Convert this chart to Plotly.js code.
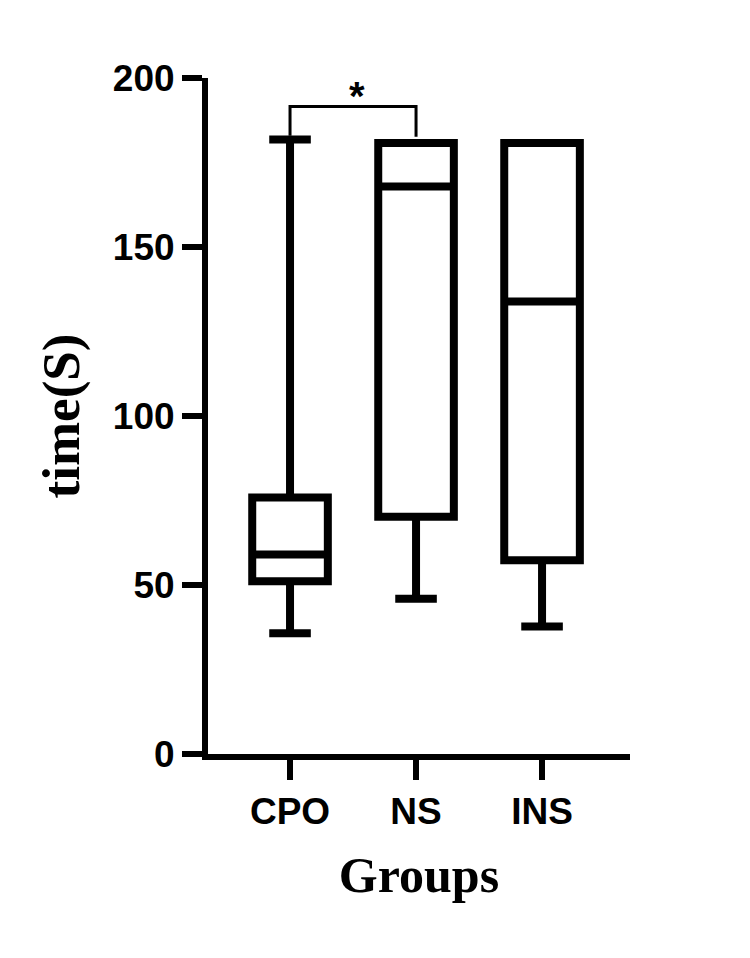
<!DOCTYPE html>
<html>
<head>
<meta charset="utf-8">
<script src="https://cdn.plot.ly/plotly-3.0.1.min.js"></script>
<style>
  html, body { margin: 0; padding: 0; background: #ffffff; }
  #chart { width: 750px; height: 958px; }
</style>
</head>
<body>
<div id="chart"></div>
<script>
// ---- data ----
const groups = ['CPO', 'NS', 'INS'];
const lowerWhisker = [35.7, 45.9, 37.7];
const q1Values = [51.1, 70.2, 57.3];
const medianValues = [59.0, 167.9, 133.9];
const q3Values = [75.9, 180.8, 180.8];
const upperWhisker = [181.8, 180.8, 180.8];
const yTickValues = [0, 50, 100, 150, 200];
// significance bracket between CPO and NS
const bracketX = ['CPO', 'CPO', 'NS', 'NS'];
const bracketY = [182.9, 191.6, 191.6, 182.6];
const sigLabel = '*';
const sigLabelX = 0.53;
const sigLabelY = 194.6;

const boxTrace = {
  type: 'box',
  x: groups,
  q1: q1Values,
  median: medianValues,
  q3: q3Values,
  lowerfence: lowerWhisker,
  upperfence: upperWhisker,
  boxpoints: false,
  width: 0.6,
  whiskerwidth: 0.55,
  fillcolor: '#ffffff',
  line: { color: '#000000', width: 8 },
  hoverinfo: 'skip',
  showlegend: false
};

const bracketTrace = {
  type: 'scatter',
  mode: 'lines',
  x: bracketX,
  y: bracketY,
  line: { color: '#000000', width: 3 },
  hoverinfo: 'skip',
  showlegend: false,
  cliponaxis: false
};

const layout = {
  width: 750,
  height: 958,
  paper_bgcolor: '#ffffff',
  plot_bgcolor: '#ffffff',
  margin: { l: 208, r: 120, t: 78, b: 204 },
  showlegend: false,
  xaxis: {
    type: 'category',
    categoryorder: 'array',
    categoryarray: groups,
    range: [-0.651, 2.698],
    showgrid: false,
    zeroline: false,
    showline: true,
    linecolor: '#000000',
    linewidth: 6,
    ticks: 'outside',
    ticklen: 20,
    tickwidth: 6,
    tickcolor: '#000000',
    tickfont: { family: 'Liberation Sans, Arial, sans-serif', size: 37, color: '#000000', weight: 'bold' },
    title: {
      text: 'Groups',
      font: { family: 'Liberation Serif, Times New Roman, serif', size: 50, color: '#000000', weight: 'bold' },
      standoff: 28
    },
    fixedrange: true
  },
  yaxis: {
    range: [0, 200],
    tickvals: yTickValues,
    ticktext: yTickValues.map(String),
    showgrid: false,
    zeroline: false,
    showline: true,
    linecolor: '#000000',
    linewidth: 6,
    ticks: 'outside',
    ticklen: 20,
    tickwidth: 6,
    tickcolor: '#000000',
    tickfont: { family: 'Liberation Sans, Arial, sans-serif', size: 37, color: '#000000', weight: 'bold' },
    title: {
      text: 'time(S)',
      font: { family: 'Liberation Serif, Times New Roman, serif', size: 53, color: '#000000', weight: 'bold' },
      standoff: 18
    },
    fixedrange: true
  },
  annotations: [
    {
      x: sigLabelX,
      y: sigLabelY,
      xref: 'x',
      yref: 'y',
      text: sigLabel,
      showarrow: false,
      font: { family: 'Liberation Sans, Arial, sans-serif', size: 40, color: '#000000', weight: 'bold' },
      xanchor: 'center',
      yanchor: 'middle'
    }
  ]
};

Plotly.newPlot('chart', [boxTrace, bracketTrace], layout, { staticPlot: true, displayModeBar: false });
</script>
</body>
</html>
